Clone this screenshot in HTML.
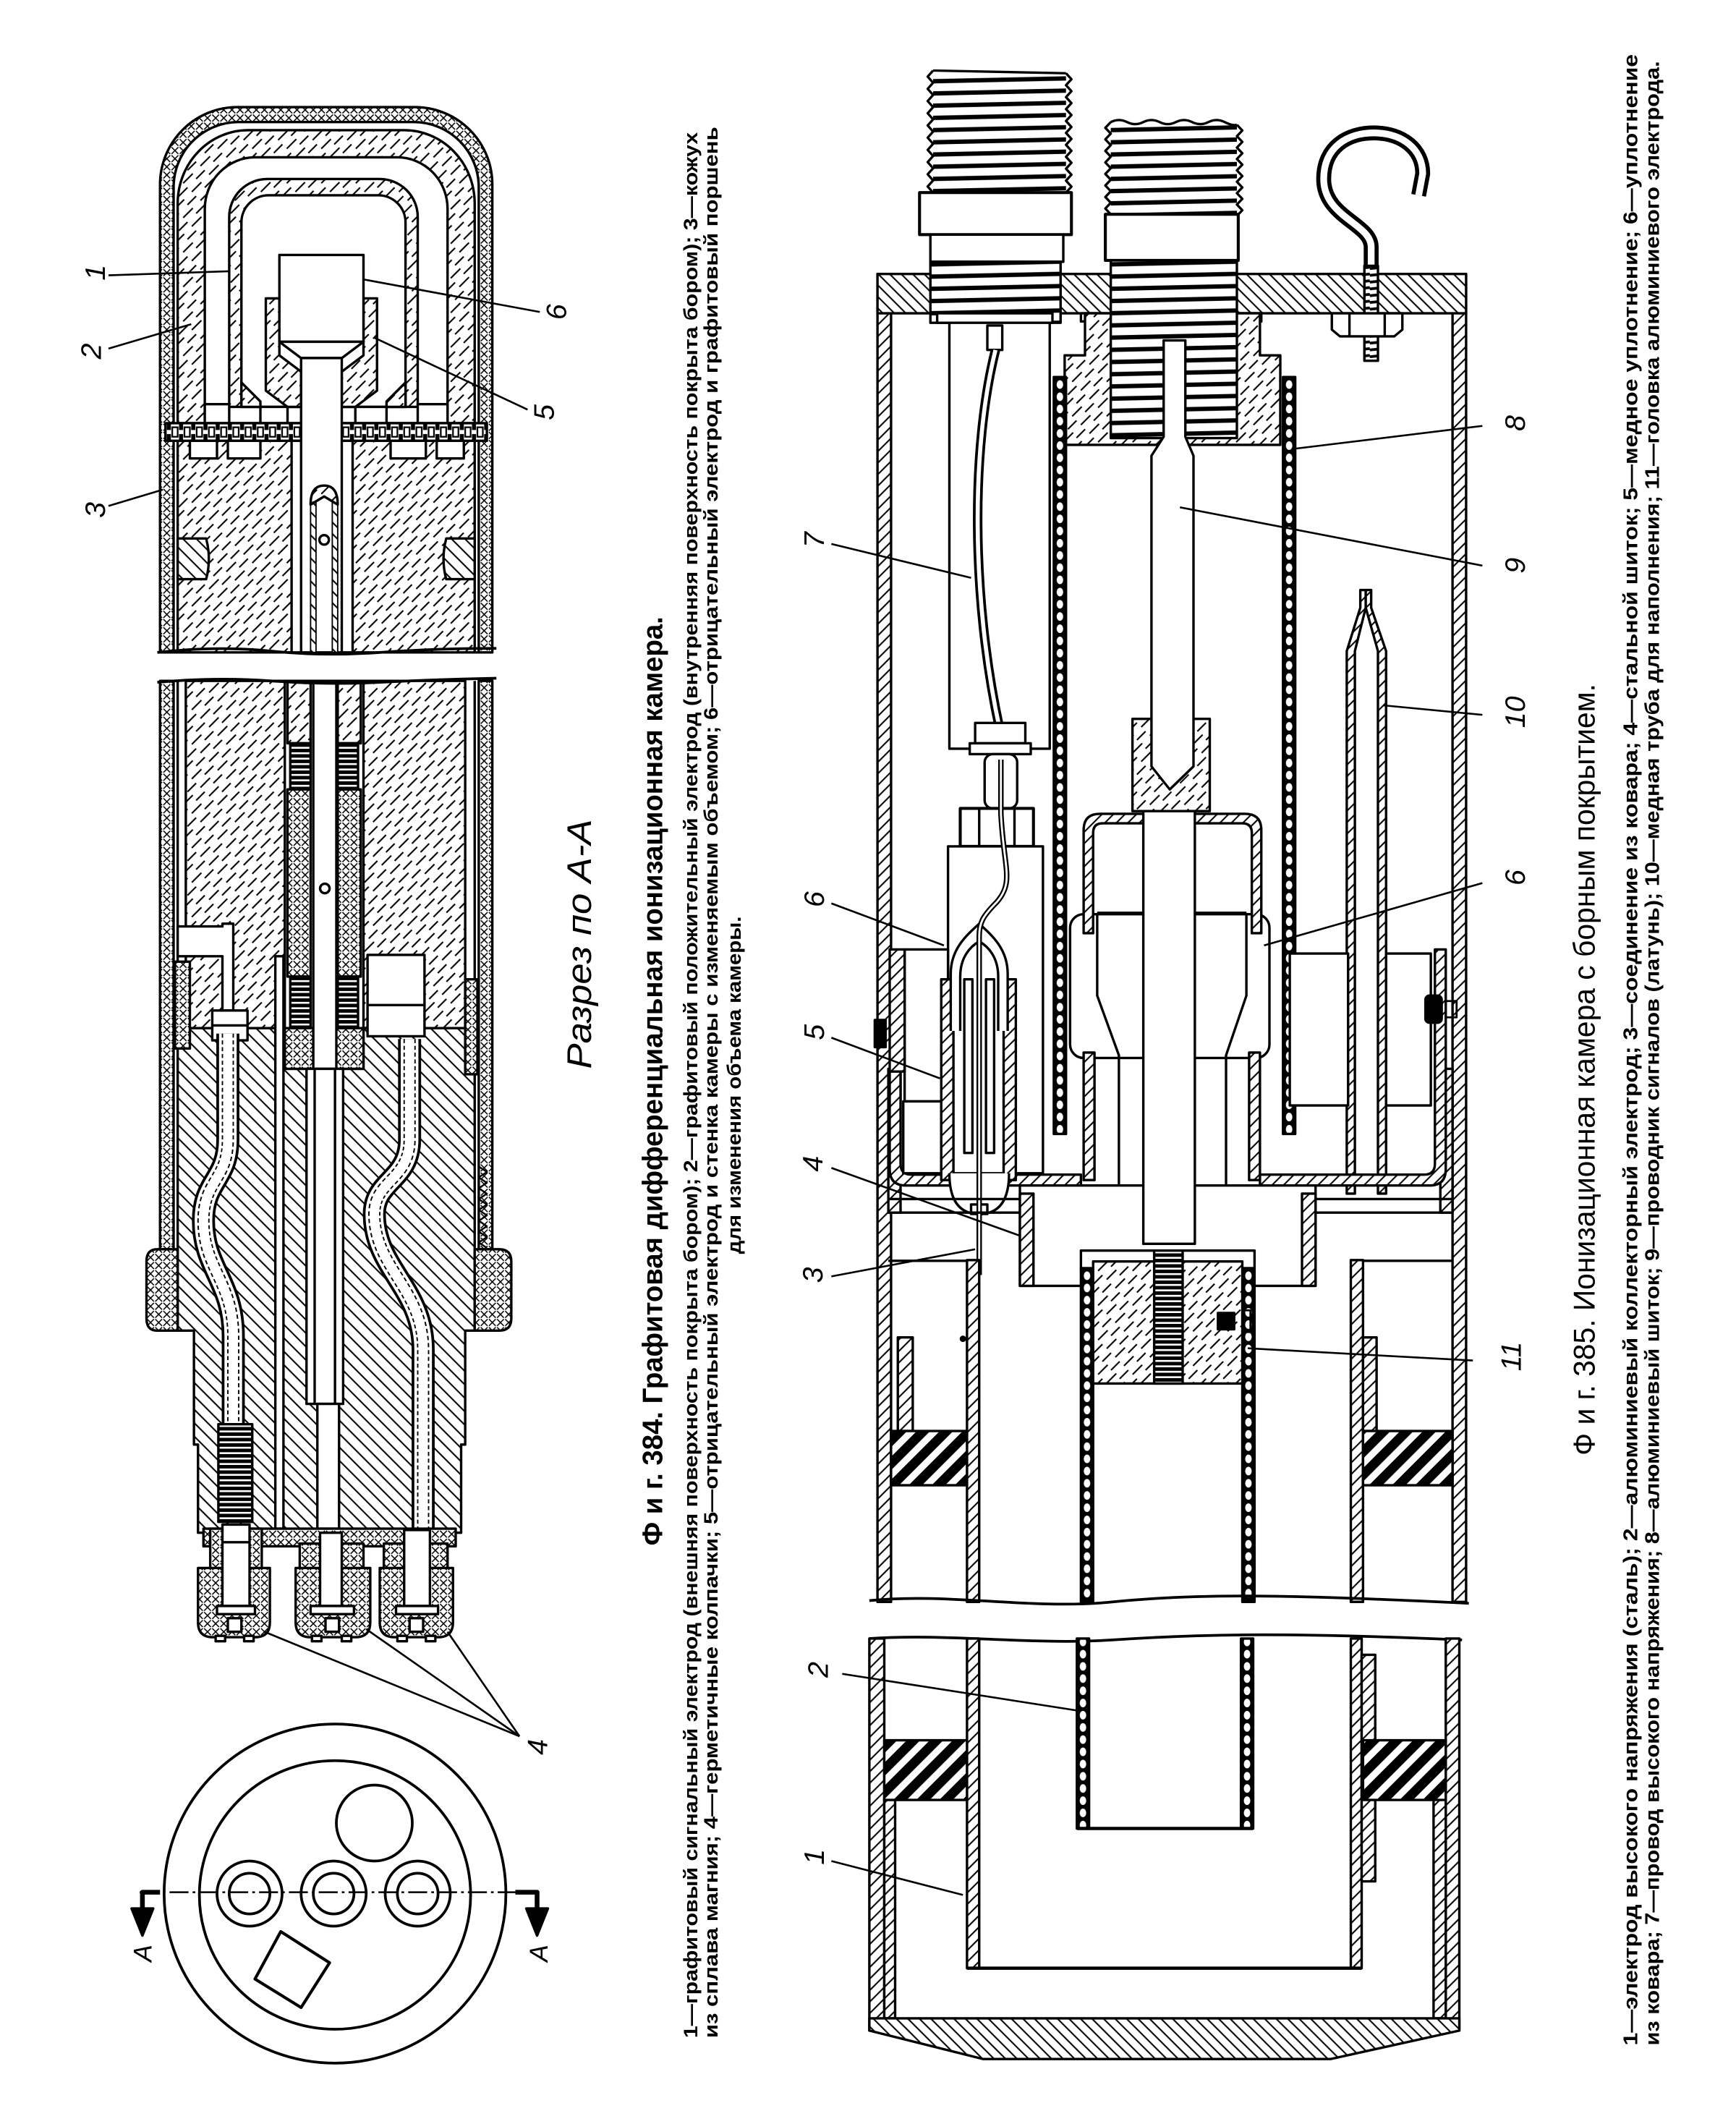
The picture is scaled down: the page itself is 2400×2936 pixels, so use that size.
<!DOCTYPE html>
<html><head><meta charset="utf-8"><title>Фиг. 384, 385</title>
<style>
html,body{margin:0;padding:0;background:#fff;width:2400px;height:2936px;overflow:hidden}
svg{display:block}
.cap{font-family:"Liberation Sans Narrow","Liberation Sans","DejaVu Sans Condensed",sans-serif;font-weight:bold;fill:#000}
.tt{font-family:"Liberation Sans Narrow","Liberation Sans",sans-serif;fill:#000}
.lb{font-family:"Liberation Sans","DejaVu Sans",sans-serif;font-style:italic;font-size:21px;fill:#000}
</style></head><body>
<svg xmlns="http://www.w3.org/2000/svg" width="2400" height="2936" viewBox="0 0 1280 1565.87">
<rect width="1280" height="1566" fill="#fff"/>
<defs>
<pattern id="cx" width="6" height="6" patternUnits="userSpaceOnUse"><rect width="6" height="6" fill="#fff"/><path d="M0.5,0.5L5.5,5.5M5.5,0.5L0.5,5.5" stroke="#000" stroke-width="0.8"/></pattern>
<pattern id="gd" width="18" height="9" patternUnits="userSpaceOnUse" patternTransform="rotate(-45)"><rect width="18" height="9" fill="#fff"/><path d="M0,2H10M9,6.5H18" stroke="#000" stroke-width="1.1"/></pattern>
<pattern id="ms" width="7" height="7" patternUnits="userSpaceOnUse" patternTransform="rotate(45)"><rect width="7" height="7" fill="#fff"/><path d="M0,3.5H7" stroke="#000" stroke-width="1.1"/></pattern>
<pattern id="hf" width="6" height="6" patternUnits="userSpaceOnUse" patternTransform="rotate(-45)"><rect width="6" height="6" fill="#fff"/><path d="M0,3H6" stroke="#000" stroke-width="1.1"/></pattern>
<pattern id="hb" width="6" height="6" patternUnits="userSpaceOnUse" patternTransform="rotate(45)"><rect width="6" height="6" fill="#fff"/><path d="M0,3H6" stroke="#000" stroke-width="1.1"/></pattern>
<pattern id="rb" width="12" height="12" patternUnits="userSpaceOnUse" patternTransform="rotate(-45)"><rect width="12" height="12" fill="#fff"/><rect width="12" height="7" fill="#000"/></pattern>
<pattern id="sp" width="10" height="4" patternUnits="userSpaceOnUse"><rect width="10" height="4" fill="#fff"/><rect width="10" height="2.6" fill="#000"/></pattern>
<pattern id="thL" x="684" y="0" width="110" height="9" patternUnits="userSpaceOnUse"><rect width="110" height="9" fill="#fff"/><path d="M-1,6L111,3.6" stroke="#000" stroke-width="3.2"/></pattern>
<pattern id="thM" x="815" y="0" width="110" height="9" patternUnits="userSpaceOnUse"><rect width="110" height="9" fill="#fff"/><path d="M-1,6L111,3.6" stroke="#000" stroke-width="3.2"/></pattern>
<pattern id="ths" width="10" height="5" patternUnits="userSpaceOnUse"><rect width="10" height="5" fill="#fff"/><path d="M0,3L10,2" stroke="#000" stroke-width="2"/></pattern>
<pattern id="tt" x="0" y="312" width="9" height="13" patternUnits="userSpaceOnUse"><rect width="9" height="13" fill="#fff"/><rect x="1" y="3" width="4" height="7" fill="none" stroke="#000" stroke-width="1.2"/><rect x="6" y="0" width="3" height="5" fill="#000"/><rect x="6" y="8" width="3" height="5" fill="#000"/></pattern>
<pattern id="d777" x="777" y="0" width="9" height="9" patternUnits="userSpaceOnUse"><rect width="9" height="9" fill="#000"/><ellipse cx="4.5" cy="4.5" rx="2.4" ry="3.2" fill="#fff"/></pattern>
<pattern id="d946" x="946" y="0" width="9" height="9" patternUnits="userSpaceOnUse"><rect width="9" height="9" fill="#000"/><ellipse cx="4.5" cy="4.5" rx="2.4" ry="3.2" fill="#fff"/></pattern>
<pattern id="d797" x="797" y="0" width="9" height="9" patternUnits="userSpaceOnUse"><rect width="9" height="9" fill="#000"/><ellipse cx="4.5" cy="4.5" rx="2.4" ry="3.2" fill="#fff"/></pattern>
<pattern id="d916" x="916" y="0" width="9" height="9" patternUnits="userSpaceOnUse"><rect width="9" height="9" fill="#000"/><ellipse cx="4.5" cy="4.5" rx="2.4" ry="3.2" fill="#fff"/></pattern>
<pattern id="d794" x="794" y="0" width="9" height="9" patternUnits="userSpaceOnUse"><rect width="9" height="9" fill="#000"/><ellipse cx="4.5" cy="4.5" rx="2.4" ry="3.2" fill="#fff"/></pattern>
<pattern id="d915" x="915" y="0" width="9" height="9" patternUnits="userSpaceOnUse"><rect width="9" height="9" fill="#000"/><ellipse cx="4.5" cy="4.5" rx="2.4" ry="3.2" fill="#fff"/></pattern>
</defs>

<!-- ================= FIG 384 ================= -->
<g stroke="#000" stroke-width="1.8" stroke-linejoin="round" fill="none">
<!-- upper section -->
<path d="M118,481V136A57,57 0 0 1 175,79H306A57,57 0 0 1 363,136V481Z" fill="url(#cx)"/>
<path d="M128,481V138A48,48 0 0 1 176,90H305A48,48 0 0 1 353,138V481Z" fill="#fff"/>
<path d="M131,312V150A52,54 0 0 1 183,96H298A52,54 0 0 1 350,150V312Z" fill="url(#gd)"/>
<path d="M151,312V154A37,38 0 0 1 188,116H293A37,38 0 0 1 330,154V312Z" fill="#fff"/>
<path d="M169,300V160A28,28 0 0 1 197,132H280A28,28 0 0 1 308,160V300Z" fill="url(#gd)"/>
<path d="M178,300V164A20,20 0 0 1 198,144H279A20,20 0 0 1 299,164V300Z" fill="#fff"/>
<path d="M178,282L192,296V300H178Z" fill="url(#gd)"/>
<path d="M299,282L285,296V300H299Z" fill="url(#gd)"/>
<path d="M196,220H206V262L222,274V300H212L196,288Z" fill="url(#gd)"/>
<path d="M278,220H268V262L252,274V300H262L278,288Z" fill="url(#gd)"/>
<rect x="206" y="188" width="62" height="64" fill="#fff"/>
<path d="M206,252H268L252,264H222Z" fill="#fff"/>
<rect x="151" y="298" width="18" height="14" fill="#fff"/>
<rect x="308" y="298" width="22" height="14" fill="#fff"/>
<rect x="192" y="300" width="20" height="12" fill="#fff"/>
<rect x="262" y="300" width="23" height="12" fill="#fff"/>
<rect x="131" y="325" width="219" height="156" fill="url(#gd)"/>
<rect x="122" y="312" width="237" height="13" fill="url(#tt)"/>
<rect x="140" y="325" width="20" height="13" fill="#fff"/>
<rect x="168" y="325" width="24" height="13" fill="#fff"/>
<rect x="288" y="325" width="26" height="13" fill="#fff"/>
<rect x="322" y="325" width="20" height="13" fill="#fff"/>
<rect x="215" y="325" width="45" height="156" fill="#fff"/>
<rect x="222" y="264" width="30" height="217" fill="#fff"/>
<rect x="229" y="368" width="4" height="113" fill="url(#hb)" stroke-width="1"/>
<rect x="245" y="368" width="4" height="113" fill="url(#hb)" stroke-width="1"/>
<path d="M229,372Q229,358 239,358Q249,358 249,372L239,366Z" fill="url(#gd)"/>
<circle cx="239" cy="398" r="3.5" fill="#fff"/>
<path d="M131,397H152Q156,412 152,427H131Z" fill="url(#ms)"/>
<path d="M350,397H329Q325,412 329,427H350Z" fill="url(#ms)"/>
<path d="M116,481Q160,476 200,480T280,481T366,478" stroke-width="2"/>

<!-- lower section -->
<rect x="118" y="502" width="10" height="419" fill="url(#cx)"/>
<rect x="353" y="502" width="10" height="419" fill="url(#cx)"/>
<rect x="137" y="502" width="206" height="256" fill="url(#gd)"/>
<line x1="131" y1="502" x2="131" y2="758"/>
<line x1="350" y1="502" x2="350" y2="758"/>
<path d="M131,758H350V981H343V1065H340V1130H146V1065H143V981H131Z" fill="url(#ms)"/>
<rect x="129" y="709" width="11" height="64" fill="url(#cx)"/>
<rect x="343" y="722" width="9" height="70" fill="url(#cx)"/>
<path d="M131,683H164V681H172V745H164V705H131Z" fill="#fff"/>
<rect x="156.5" y="745" width="26" height="22" fill="#fff"/>
<line x1="156.5" y1="756" x2="182.5" y2="756"/>
<rect x="271" y="704" width="42" height="60" fill="#fff"/>
<line x1="271" y1="741" x2="313" y2="741"/>
<!-- center column -->
<rect x="210" y="502" width="58" height="286" fill="#fff"/>
<rect x="212" y="502" width="17" height="46" fill="url(#gd)"/>
<rect x="249" y="502" width="17" height="46" fill="url(#gd)"/>
<rect x="214" y="548" width="15" height="34" fill="url(#sp)"/>
<rect x="249" y="548" width="15" height="34" fill="url(#sp)"/>
<rect x="212" y="582" width="17" height="138" fill="url(#cx)"/>
<rect x="249" y="582" width="17" height="138" fill="url(#cx)"/>
<rect x="214" y="720" width="15" height="38" fill="url(#sp)"/>
<rect x="249" y="720" width="15" height="38" fill="url(#sp)"/>
<rect x="210" y="758" width="22" height="30" fill="url(#cx)"/>
<rect x="246" y="758" width="22" height="30" fill="url(#cx)"/>
<rect x="231" y="502" width="17" height="286" fill="#fff"/>
<circle cx="239.5" cy="655" r="3.5" fill="#fff"/>
<!-- tubes in metal body -->
<rect x="203" y="705" width="6" height="422" fill="#fff"/>
<path d="M168,762V840C168,870 150,870 150,900C150,935 172,945 172,985V1052" stroke-width="17"/>
<path d="M168,762V840C168,870 150,870 150,900C150,935 172,945 172,985V1052" stroke="#fff" stroke-width="13"/>
<path d="M168,762V840C168,870 150,870 150,900C150,935 172,945 172,985V1052" stroke-width="9" stroke-dasharray="3,2"/>
<path d="M168,762V840C168,870 150,870 150,900C150,935 172,945 172,985V1052" stroke="#fff" stroke-width="7"/>
<path d="M302,766V840C302,870 276,870 276,895C276,935 312,950 312,995V1128" stroke-width="17"/>
<path d="M302,766V840C302,870 276,870 276,895C276,935 312,950 312,995V1128" stroke="#fff" stroke-width="13"/>
<path d="M302,766V840C302,870 276,870 276,895C276,935 312,950 312,995V1128" stroke-width="9" stroke-dasharray="3,2"/>
<path d="M302,766V840C302,870 276,870 276,895C276,935 312,950 312,995V1128" stroke="#fff" stroke-width="7"/>
<rect x="226" y="788" width="27" height="247" fill="#fff"/>
<line x1="232" y1="788" x2="232" y2="1035"/>
<line x1="247" y1="788" x2="247" y2="1035"/>
<rect x="234" y="1035" width="16" height="92" fill="#fff"/>
<rect x="161" y="1050" width="25" height="72" fill="url(#sp)"/>
<!-- nut -->
<path d="M131,921H116Q108,921 108,930V972Q108,981 116,981H131Z" fill="url(#cx)"/>
<path d="M350,921H368Q377,921 377,930V972Q377,981 368,981H350Z" fill="url(#cx)"/>
<path d="M353,860l6,4l-6,4l6,4l-6,4l6,4l-6,4l6,4l-6,4l6,4l-6,4l6,4l-6,4l6,4l-6,4l6,4" stroke-width="1.3"/>
<!-- bottom plate + caps -->
<rect x="150" y="1127" width="186" height="13" fill="url(#cx)"/>
<rect x="155" y="1127" width="38" height="33" fill="url(#cx)"/>
<rect x="221" y="1138" width="47" height="22" fill="url(#cx)"/>
<rect x="283" y="1138" width="47" height="22" fill="url(#cx)"/>
<path d="M146,1156H199V1196Q199,1207 188,1207H157Q146,1207 146,1196Z" fill="url(#cx)"/>
<path d="M218,1156H273V1196Q273,1207 262,1207H229Q218,1207 218,1196Z" fill="url(#cx)"/>
<path d="M280,1156H334V1196Q334,1207 323,1207H291Q280,1207 280,1196Z" fill="url(#cx)"/>
<rect x="164" y="1124" width="20" height="60" fill="#fff"/>
<line x1="164" y1="1137" x2="184" y2="1137"/>
<rect x="236" y="1130" width="16" height="54" fill="#fff"/>
<rect x="298" y="1128" width="19" height="56" fill="#fff"/>
<rect x="160" y="1184" width="28" height="6" fill="#fff"/>
<rect x="229" y="1184" width="32" height="6" fill="#fff"/>
<rect x="292" y="1184" width="31" height="6" fill="#fff"/>
<rect x="168" y="1193" width="10" height="10" fill="#fff"/>
<rect x="240" y="1193" width="10" height="10" fill="#fff"/>
<rect x="302" y="1193" width="10" height="10" fill="#fff"/>
<rect x="159" y="1206" width="7" height="4" fill="#fff"/><rect x="180" y="1206" width="7" height="4" fill="#fff"/>
<rect x="230" y="1206" width="7" height="4" fill="#fff"/><rect x="252" y="1206" width="7" height="4" fill="#fff"/>
<rect x="293" y="1206" width="7" height="4" fill="#fff"/><rect x="314" y="1206" width="7" height="4" fill="#fff"/>
<path d="M116,503Q160,499 200,502T280,503T366,500" stroke-width="2"/>

<!-- leaders -->
<g stroke-width="1.4">
<line x1="80" y1="203" x2="169" y2="200"/>
<line x1="80" y1="257" x2="141" y2="239"/>
<line x1="80" y1="373" x2="120" y2="361"/>
<line x1="398" y1="230" x2="268" y2="206"/>
<line x1="389" y1="302" x2="276" y2="249"/>
<line x1="383" y1="1280" x2="195" y2="1203"/>
<line x1="383" y1="1280" x2="270" y2="1201"/>
<line x1="383" y1="1280" x2="330" y2="1203"/>
</g>

<!-- section view circle -->
<ellipse cx="247" cy="1396" rx="126" ry="125" stroke-width="2"/>
<ellipse cx="247" cy="1397" rx="100" ry="99" stroke-width="2"/>
<circle cx="184" cy="1396" r="24" stroke-width="2"/>
<circle cx="184" cy="1396" r="15" stroke-width="2"/>
<circle cx="246" cy="1396" r="24" stroke-width="2"/>
<circle cx="246" cy="1396" r="15" stroke-width="2"/>
<circle cx="308" cy="1396" r="24" stroke-width="2"/>
<circle cx="308" cy="1396" r="15" stroke-width="2"/>
<circle cx="276" cy="1344" r="28" stroke-width="2"/>
<path d="M207,1424L243,1447L222,1480L188,1459Z" stroke-width="2.2"/>
<line x1="103" y1="1395" x2="390" y2="1395" stroke-width="1.3" stroke-dasharray="14,3,2,3"/>
<path d="M118,1395H105V1410" stroke-width="3.5"/>
<path d="M97,1407H113L105,1427Z" fill="#000"/>
<path d="M380,1395H396V1410" stroke-width="3.5"/>
<path d="M388,1407H404L396,1427Z" fill="#000"/>
</g>

<!-- fig 384 labels -->
<g class="lb">
<text transform="translate(70,201) rotate(-90)" text-anchor="middle" dy="0.35em">1</text>
<text transform="translate(67,259) rotate(-90)" text-anchor="middle" dy="0.35em">2</text>
<text transform="translate(70,376) rotate(-90)" text-anchor="middle" dy="0.35em">3</text>
<text transform="translate(410,230) rotate(-90)" text-anchor="middle" dy="0.35em">6</text>
<text transform="translate(401,304) rotate(-90)" text-anchor="middle" dy="0.35em">5</text>
<text transform="translate(396,1288) rotate(-90)" text-anchor="middle" dy="0.35em">4</text>
<text transform="translate(105,1440) rotate(-90)" text-anchor="middle" dy="0.35em" font-size="19">А</text>
<text transform="translate(397,1440) rotate(-90)" text-anchor="middle" dy="0.35em" font-size="19">А</text>
<text transform="translate(427,696) rotate(-90)" text-anchor="middle" dy="0.35em" font-size="25" textLength="184" lengthAdjust="spacingAndGlyphs">Разрез по А-А</text>
</g>
<g class="cap">
<text transform="translate(481,797) rotate(-90)" text-anchor="middle" dy="0.35em" font-size="21" textLength="685" lengthAdjust="spacingAndGlyphs">Ф и г. 384. Графитовая   дифференциальная   ионизационная камера.</text>
<text transform="translate(509,800) rotate(-90)" text-anchor="middle" dy="0.35em" font-size="14.5" textLength="1405" lengthAdjust="spacingAndGlyphs">1—графитовый сигнальный электрод (внешняя поверхность покрыта бором); 2—графитовый положительный электрод (внутренняя поверхность покрыта бором); 3—кожух</text>
<text transform="translate(524,798) rotate(-90)" text-anchor="middle" dy="0.35em" font-size="14.5" textLength="1409" lengthAdjust="spacingAndGlyphs">из сплава магния; 4—герметичные колпачки; 5—отрицательный электрод и стенка камеры с изменяемым объемом; 6—отрицательный электрод и графитовый поршень</text>
<text transform="translate(541,800) rotate(-90)" text-anchor="middle" dy="0.35em" font-size="14.5" textLength="249" lengthAdjust="spacingAndGlyphs">для изменения объема камеры.</text>
</g>

<!-- ================= FIG 385 ================= -->
<g stroke="#000" stroke-width="1.8" stroke-linejoin="round" fill="none">
<!-- casing upper -->
<rect x="647" y="202" width="10" height="979" fill="url(#hf)"/>
<rect x="1071" y="202" width="10" height="979" fill="url(#hf)"/>
<rect x="647" y="202" width="434" height="29" fill="url(#hb)"/>
<rect x="655" y="788" width="9" height="106" fill="url(#hf)"/>
<rect x="1062" y="788" width="9" height="106" fill="url(#hf)"/>
<rect x="645" y="752" width="8" height="20" fill="#000"/>
<rect x="797" y="231" width="20" height="6" fill="#fff"/>
<rect x="912" y="231" width="18" height="6" fill="#fff"/>
<!-- left connector -->
<rect x="688" y="52" width="98" height="90" fill="url(#thL)" stroke="none"/>
<path d="M688,52l-4,4.5l4,4.5l-4,4.5l4,4.5l-4,4.5l4,4.5l-4,4.5l4,4.5l-4,4.5l4,4.5l-4,4.5l4,4.5l-4,4.5l4,4.5l-4,4.5l4,4.5l-4,4.5l4,4.5l-4,4.5l4,4.5"/>
<path d="M786,54l4,4.4l-4,4.4l4,4.4l-4,4.4l4,4.4l-4,4.4l4,4.4l-4,4.4l4,4.4l-4,4.4l4,4.4l-4,4.4l4,4.4l-4,4.4l4,4.4l-4,4.4l4,4.4l-4,4.4l4,4.4l-4,4.4"/>
<path d="M688,52L786,54"/>
<rect x="678" y="142" width="112" height="31" fill="#fff" stroke-width="2.2"/>
<rect x="686" y="173" width="98" height="20" fill="#fff"/>
<rect x="686" y="193" width="96" height="45" fill="url(#thL)"/>
<rect x="691" y="231" width="85" height="7" fill="#fff"/>
<rect x="700" y="238" width="74" height="314" fill="#fff"/>
<rect x="728" y="240" width="11" height="18" fill="#fff"/>
<path d="M734,258C716,330 716,440 737,537" stroke-width="7"/>
<path d="M734,258C716,330 716,440 737,537" stroke="#fff" stroke-width="3"/>
<rect x="719" y="533" width="37" height="15" fill="#fff"/>
<rect x="715" y="548" width="45" height="8" fill="#fff"/>
<rect x="726" y="556" width="24" height="40" rx="6" fill="#fff"/>
<!-- middle connector -->
<path d="M800,231H929V262H944V328H785V262H800Z" fill="url(#gd)"/>
<rect x="819" y="90" width="93" height="68" fill="url(#thM)" stroke="none"/>
<path d="M819,90l-4,4.25l4,4.25l-4,4.25l4,4.25l-4,4.25l4,4.25l-4,4.25l4,4.25l-4,4.25l4,4.25l-4,4.25l4,4.25l-4,4.25l4,4.25l-4,4.25l4,4.25"/>
<path d="M912,92l4,4.2l-4,4.2l4,4.2l-4,4.2l4,4.2l-4,4.2l4,4.2l-4,4.2l4,4.2l-4,4.2l4,4.2l-4,4.2l4,4.2l-4,4.2l4,4.2l-4,4.2"/>
<path d="M819,90q6,-3 12,0t12,0t12,0t12,0t12,0t12,0t12,0t9,2"/>
<rect x="815" y="158" width="98" height="34" fill="#fff" stroke-width="2.2"/>
<rect x="819" y="192" width="93" height="131" fill="url(#thM)"/>
<rect x="835" y="530" width="57" height="68" fill="url(#gd)"/>
<path d="M858,251H874V322L880,336V565L862.5,582L849,565V336L858,322Z" fill="#fff"/>
<!-- boron tube 8 -->
<rect x="777" y="278" width="9" height="558" fill="url(#d777)"/>
<rect x="946" y="278" width="9" height="558" fill="url(#d946)"/>
<!-- hook -->
<path d="M1011,200V182C1011,165 976,160 976,132C976,108 994,98 1013,98C1034,98 1049,110 1049,128L1046,144" stroke-width="11"/>
<path d="M1011,200V182C1011,165 976,160 976,132C976,108 994,98 1013,98C1034,98 1049,110 1049,128L1046,144" stroke="#fff" stroke-width="5"/>
<rect x="1006" y="196" width="10" height="70" fill="url(#ths)"/>
<path d="M982,231H1034V243L1028,248H988L982,243Z" fill="#fff"/>
<line x1="995" y1="231" x2="995" y2="248"/><line x1="1021" y1="231" x2="1021" y2="248"/>
<!-- tube 10 -->
<path d="M993,880V480L1003,448V435H1007V448L999,480V880Z" fill="url(#hf)"/>
<path d="M1022,880V480L1011,448V435H1007V448L1016,480V880Z" fill="url(#hf)"/>
<!-- left feedthrough -->
<rect x="708" y="596" width="54" height="28" fill="#fff" stroke-width="2.2"/>
<line x1="722" y1="596" x2="722" y2="624"/><line x1="748" y1="596" x2="748" y2="624"/>
<rect x="699" y="624" width="70" height="241" fill="#fff"/>
<rect x="667" y="700" width="32" height="112" fill="#fff"/>
<rect x="656" y="700" width="11" height="90" fill="url(#hf)"/>
<path d="M656,790V862Q656,874 668,874H797V866H672Q664,866 664,858V790Z" fill="url(#hf)"/>
<rect x="666" y="812" width="28" height="53" fill="#fff"/>
<rect x="694" y="722" width="9" height="148" fill="url(#hf)"/>
<rect x="740" y="722" width="9" height="148" fill="url(#hf)"/>
<path d="M701,760V718C701,700 712,690 722,681C732,690 743,700 743,718V760" fill="#fff"/>
<path d="M708,760V720C708,706 715,698 722,694C729,698 736,706 736,720V760"/>
<rect x="711" y="722" width="6" height="128" fill="#fff"/>
<rect x="727" y="722" width="6" height="128" fill="#fff"/>
<path d="M700,865Q700,895 722,895Q744,895 744,865" fill="#fff"/>
<rect x="716" y="888" width="12" height="7" fill="#fff"/>
<path d="M738,560V600C740,640 748,650 735,665C725,675 722,680 722,690V940" stroke-width="4"/>
<path d="M738,560V600C740,640 748,650 735,665C725,675 722,680 722,690V940" stroke="#fff" stroke-width="1.5"/>
<!-- right side inner -->
<rect x="951" y="703" width="43" height="112" fill="#fff"/>
<rect x="1022" y="703" width="33" height="112" fill="#fff"/>
<path d="M1066,700V862Q1066,874 1054,874H929V866H1050Q1058,866 1058,858V700Z" fill="url(#hf)"/>
<rect x="1051" y="734" width="12" height="20" rx="3" fill="#000"/>
<path d="M1066,738h8v12h-8" stroke-width="1.5"/>
<!-- cup 6 / kovar -->
<rect x="789" y="674" width="147" height="106" rx="10" fill="#fff"/>
<path d="M799,688V612Q799,600 811,600H918Q930,600 930,612V688H923V614Q923,607 916,607H813Q806,607 806,614V688Z" fill="url(#hf)"/>
<path d="M809,673V734L825,778V880"/>
<path d="M919,673V734L904,778V880"/>
<line x1="809" y1="673" x2="919" y2="673"/>
<rect x="799" y="776" width="8" height="94" fill="url(#hf)"/>
<rect x="921" y="776" width="8" height="94" fill="url(#hf)"/>
<!-- center block 3/4 -->
<rect x="752" y="874" width="218" height="74" fill="#fff"/>
<rect x="752" y="880" width="10" height="68" fill="url(#hf)"/>
<rect x="960" y="880" width="10" height="68" fill="url(#hf)"/>
<rect x="843" y="598" width="38" height="319" fill="#fff"/>
<line x1="655" y1="884" x2="752" y2="884"/><line x1="655" y1="894" x2="752" y2="894"/>
<line x1="970" y1="884" x2="1071" y2="884"/><line x1="970" y1="894" x2="1071" y2="894"/>
<!-- head 11 & collector -->
<rect x="797" y="922" width="128" height="13" fill="#fff"/>
<rect x="797" y="935" width="9" height="246" fill="url(#d797)"/>
<rect x="916" y="935" width="9" height="246" fill="url(#d916)"/>
<rect x="806" y="930" width="110" height="90" fill="url(#gd)"/>
<rect x="851" y="922" width="21" height="98" fill="url(#sp)"/>
<rect x="898" y="968" width="12" height="12" fill="#000"/>
<path d="M916,966h6v16h-6" stroke-width="1.5"/>
<!-- lower part of upper section -->
<line x1="655" y1="929.5" x2="713" y2="929.5"/>
<line x1="1005" y1="929.5" x2="1071" y2="929.5"/>
<rect x="713" y="929" width="9" height="252" fill="url(#hf)"/>
<rect x="996" y="929" width="9" height="252" fill="url(#hf)"/>
<rect x="662" y="986" width="11" height="69" fill="url(#hf)"/>
<rect x="1005" y="986" width="10" height="69" fill="url(#hf)"/>
<rect x="657" y="1055" width="56" height="40" fill="url(#rb)"/>
<rect x="1005" y="1055" width="66" height="40" fill="url(#rb)"/>
<circle cx="710" cy="987" r="1.5" fill="#000"/>
<path d="M641,1180C700,1174 760,1187 820,1181S940,1175 1083,1182" stroke-width="2"/>
<!-- lower section -->
<path d="M641,1208C700,1204 760,1213 820,1209S940,1203 1078,1209" stroke-width="2"/>
<rect x="641" y="1208" width="11" height="289" fill="url(#hf)"/>
<rect x="1066" y="1208" width="10" height="289" fill="url(#hf)"/>
<rect x="652" y="1326" width="8" height="162" fill="url(#hf)"/>
<rect x="1057" y="1326" width="9" height="162" fill="url(#hf)"/>
<rect x="713" y="1208" width="9" height="243" fill="url(#hf)"/>
<rect x="996" y="1208" width="8" height="243" fill="url(#hf)"/>
<line x1="713" y1="1451" x2="1004" y2="1451" stroke-width="2.4"/>
<rect x="1004" y="1220" width="10" height="167" fill="url(#hf)"/>
<rect x="652" y="1283" width="61" height="44" fill="url(#rb)"/>
<rect x="1005" y="1283" width="61" height="44" fill="url(#rb)"/>
<rect x="794" y="1208" width="9" height="140" fill="url(#d794)"/>
<rect x="915" y="1208" width="9" height="140" fill="url(#d915)"/>
<line x1="794" y1="1348" x2="924" y2="1348" stroke-width="2.4"/>
<path d="M641,1488H1076V1497L981,1518H725L641,1497Z" fill="url(#hb)"/>
<!-- leaders -->
<g stroke-width="1.4">
<line x1="613" y1="401" x2="716" y2="426"/>
<line x1="613" y1="666" x2="696" y2="697"/>
<line x1="613" y1="765" x2="693" y2="795"/>
<line x1="613" y1="861" x2="752" y2="911"/>
<line x1="613" y1="941" x2="719" y2="921"/>
<line x1="621" y1="1234" x2="794" y2="1261"/>
<line x1="613" y1="1372" x2="710" y2="1397"/>
<line x1="1093" y1="314" x2="953" y2="331"/>
<line x1="1093" y1="417" x2="870" y2="374"/>
<line x1="1093" y1="527" x2="1020" y2="520"/>
<line x1="1093" y1="651" x2="932" y2="697"/>
<line x1="1086" y1="1003" x2="920" y2="994"/>
</g>
</g>

<!-- fig 385 labels -->
<g class="lb">
<text transform="translate(600,398) rotate(-90)" text-anchor="middle" dy="0.35em">7</text>
<text transform="translate(600,663) rotate(-90)" text-anchor="middle" dy="0.35em">6</text>
<text transform="translate(600,761) rotate(-90)" text-anchor="middle" dy="0.35em">5</text>
<text transform="translate(599,858) rotate(-90)" text-anchor="middle" dy="0.35em">4</text>
<text transform="translate(599,940) rotate(-90)" text-anchor="middle" dy="0.35em">3</text>
<text transform="translate(603,1231) rotate(-90)" text-anchor="middle" dy="0.35em">2</text>
<text transform="translate(600,1369) rotate(-90)" text-anchor="middle" dy="0.35em">1</text>
<text transform="translate(1117,312) rotate(-90)" text-anchor="middle" dy="0.35em">8</text>
<text transform="translate(1117,417) rotate(-90)" text-anchor="middle" dy="0.35em">9</text>
<text transform="translate(1117,525) rotate(-90)" text-anchor="middle" dy="0.35em">10</text>
<text transform="translate(1117,647) rotate(-90)" text-anchor="middle" dy="0.35em">6</text>
<text transform="translate(1114,1000) rotate(-90)" text-anchor="middle" dy="0.35em">11</text>
</g>
<g>
<text class="tt" transform="translate(1168,788.5) rotate(-90)" text-anchor="middle" dy="0.35em" font-size="22" textLength="569" lengthAdjust="spacingAndGlyphs">Ф и г. 385. Ионизационная камера с борным покрытием.</text>
<text class="cap" transform="translate(1202,774) rotate(-90)" text-anchor="middle" dy="0.35em" font-size="15" textLength="1468" lengthAdjust="spacingAndGlyphs">1—электрод высокого  напряжения (сталь); 2—алюминиевый коллекторный электрод; 3—соединение из ковара; 4—стальной шиток; 5—медное  уплотнение; 6—уплотнение</text>
<text class="cap" transform="translate(1218,776.5) rotate(-90)" text-anchor="middle" dy="0.35em" font-size="15" textLength="1463" lengthAdjust="spacingAndGlyphs">из ковара; 7—провод высокого напряжения; 8—алюминиевый шиток; 9—проводник сигналов (латунь); 10—медная труба для наполнения; 11—головка алюминиевого электрода.</text>
</g>
</svg>
</body></html>
